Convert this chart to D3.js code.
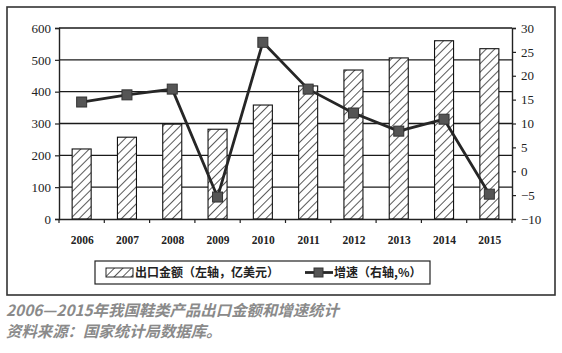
<!DOCTYPE html>
<html>
<head>
<meta charset="utf-8">
<script src="https://cdn.jsdelivr.net/npm/d3@7"></script>
<style>
body { margin: 0; background: #fff; }
</style>
</head>
<body>
<div id="chart"></div>
<script>
let years = ["2006","2007","2008","2009","2010","2011","2012","2013","2014","2015"];
let exportValue = [220, 257, 298, 282, 358, 418, 468, 506, 560, 535];
let growthRate = [14.5, 16, 17.2, -5.4, 27, 17.2, 12.2, 8.4, 10.9, -4.8];
let leftTicks = [0, 100, 200, 300, 400, 500, 600];
let rightTicks = [-10, -5, 0, 5, 10, 15, 20, 25, 30];
let legendLabels = ["出口金额（左轴，亿美元）", "增速（右轴,%）"];
let captionLines = ["2006—2015年我国鞋类产品出口金额和增速统计", "资料来源：国家统计局数据库。"];

let width = 562, height = 353;
let plot = {left: 59, right: 512, top: 28, bottom: 219};

let svg = d3.select("#chart").append("svg")
  .attr("width", width)
  .attr("height", height);

let defs = svg.append("defs");
let pat = defs.append("pattern")
  .attr("id", "hatch")
  .attr("patternUnits", "userSpaceOnUse")
  .attr("width", 6)
  .attr("height", 6)
  .attr("patternTransform", "rotate(45)");
pat.append("rect").attr("width", 6).attr("height", 6).attr("fill", "#fff");
pat.append("line")
  .attr("x1", 0).attr("y1", 0).attr("x2", 0).attr("y2", 6)
  .attr("stroke", "#111").attr("stroke-width", 1.4);

// outer frame
svg.append("rect")
  .attr("x", 7).attr("y", 7)
  .attr("width", 548).attr("height", 288)
  .attr("fill", "none")
  .attr("stroke", "#333")
  .attr("stroke-width", 1.6);

let x = d3.scaleBand()
  .domain(years)
  .range([plot.left, plot.right])
  .paddingInner(0.58)
  .paddingOuter(0.29);

let xTick = d3.scalePoint()
  .domain(years)
  .range([plot.left, plot.right])
  .padding(0.5);

let yL = d3.scaleLinear().domain([0, 600]).range([plot.bottom, plot.top]);
let yR = d3.scaleLinear().domain([-10, 30]).range([plot.bottom, plot.top]);

// grid
svg.append("g")
  .selectAll("line")
  .data(leftTicks.slice(1))
  .enter().append("line")
  .attr("x1", plot.left).attr("x2", plot.right)
  .attr("y1", d => yL(d)).attr("y2", d => yL(d))
  .attr("stroke", "#1a1a1a")
  .attr("stroke-width", 1.3);

// bars
svg.append("g")
  .selectAll("rect")
  .data(exportValue)
  .enter().append("rect")
  .attr("x", (d, i) => x(years[i]))
  .attr("y", d => yL(d))
  .attr("width", x.bandwidth())
  .attr("height", d => plot.bottom - yL(d))
  .attr("fill", "url(#hatch)")
  .attr("stroke", "#111")
  .attr("stroke-width", 1.1);

let axisFont = "'Liberation Serif', 'DejaVu Serif', serif";

// left axis
let gl = svg.append("g")
  .attr("transform", "translate(" + plot.left + ",0)")
  .call(d3.axisLeft(yL).tickValues(leftTicks).tickSize(4).tickPadding(4));
gl.select(".domain").attr("stroke", "#222").attr("stroke-width", 1.4);
gl.selectAll(".tick line").attr("stroke", "#222").attr("stroke-width", 1.2);
gl.selectAll("text").attr("font-family", axisFont).attr("font-size", 13).attr("fill", "#222");

// right axis
let gr = svg.append("g")
  .attr("transform", "translate(" + plot.right + ",0)")
  .call(d3.axisRight(yR).tickValues(rightTicks).tickSize(4).tickPadding(5)
    .tickFormat(d => d < 0 ? "\u2212" + Math.abs(d) : d));
gr.select(".domain").attr("stroke", "#222").attr("stroke-width", 1.4);
gr.selectAll(".tick line").attr("stroke", "#222").attr("stroke-width", 1.2);
gr.selectAll("text").attr("font-family", axisFont).attr("font-size", 13).attr("fill", "#222");

// bottom axis
let gb = svg.append("g")
  .attr("transform", "translate(0," + plot.bottom + ")")
  .call(d3.axisBottom(xTick).tickSize(0).tickPadding(17));
gb.select(".domain").attr("stroke", "#222").attr("stroke-width", 1.4);
gb.selectAll("text").attr("font-family", axisFont).attr("font-size", 11.5)
  .attr("font-weight", "bold").attr("fill", "#222");
// tick marks between categories
let step = (plot.right - plot.left) / years.length;
svg.append("g")
  .selectAll("line")
  .data(d3.range(years.length + 1))
  .enter().append("line")
  .attr("x1", d => plot.left + d * step).attr("x2", d => plot.left + d * step)
  .attr("y1", plot.bottom).attr("y2", plot.bottom + 4)
  .attr("stroke", "#222").attr("stroke-width", 1.2);

// growth line
let line = d3.line()
  .x((d, i) => xTick(years[i]))
  .y(d => yR(d));

svg.append("path")
  .datum(growthRate)
  .attr("d", line)
  .attr("fill", "none")
  .attr("stroke", "#262626")
  .attr("stroke-width", 2.8)
  .attr("stroke-linejoin", "round");

svg.append("g")
  .selectAll("rect")
  .data(growthRate)
  .enter().append("rect")
  .attr("x", (d, i) => xTick(years[i]) - 5)
  .attr("y", d => yR(d) - 5)
  .attr("width", 10).attr("height", 10)
  .attr("fill", "#555")
  .attr("stroke", "#333")
  .attr("stroke-width", 1);

// legend
let lg = svg.append("g");
lg.append("rect")
  .attr("x", 95).attr("y", 261)
  .attr("width", 335).attr("height", 23)
  .attr("fill", "#fff")
  .attr("stroke", "#222")
  .attr("stroke-width", 1.2);
lg.append("rect")
  .attr("x", 106).attr("y", 268)
  .attr("width", 27).attr("height", 9)
  .attr("fill", "url(#hatch)")
  .attr("stroke", "#222")
  .attr("stroke-width", 1);
lg.append("text")
  .attr("x", 135).attr("y", 277)
  .attr("font-family", "'Noto Sans CJK SC', sans-serif")
  .attr("font-size", 12)
  .attr("font-weight", "bold")
  .attr("fill", "#222")
  .text(legendLabels[0]);
lg.append("line")
  .attr("x1", 305).attr("x2", 333)
  .attr("y1", 272.5).attr("y2", 272.5)
  .attr("stroke", "#262626").attr("stroke-width", 2.8);
lg.append("rect")
  .attr("x", 314).attr("y", 268)
  .attr("width", 9).attr("height", 9)
  .attr("fill", "#555").attr("stroke", "#333");
lg.append("text")
  .attr("x", 334).attr("y", 277)
  .attr("font-family", "'Noto Sans CJK SC', sans-serif")
  .attr("font-size", 12)
  .attr("font-weight", "bold")
  .attr("fill", "#222")
  .text(legendLabels[1]);

// caption
svg.append("g")
  .selectAll("text")
  .data(captionLines)
  .enter().append("text")
  .attr("x", 6)
  .attr("y", (d, i) => 316 + i * 21)
  .attr("font-family", "'Noto Sans CJK SC', sans-serif")
  .attr("font-size", 15.4)
  .attr("font-weight", "bold")
  .attr("font-style", "italic")
  .attr("fill", "#8a8a8a")
  .text(d => d);
</script>
</body>
</html>
